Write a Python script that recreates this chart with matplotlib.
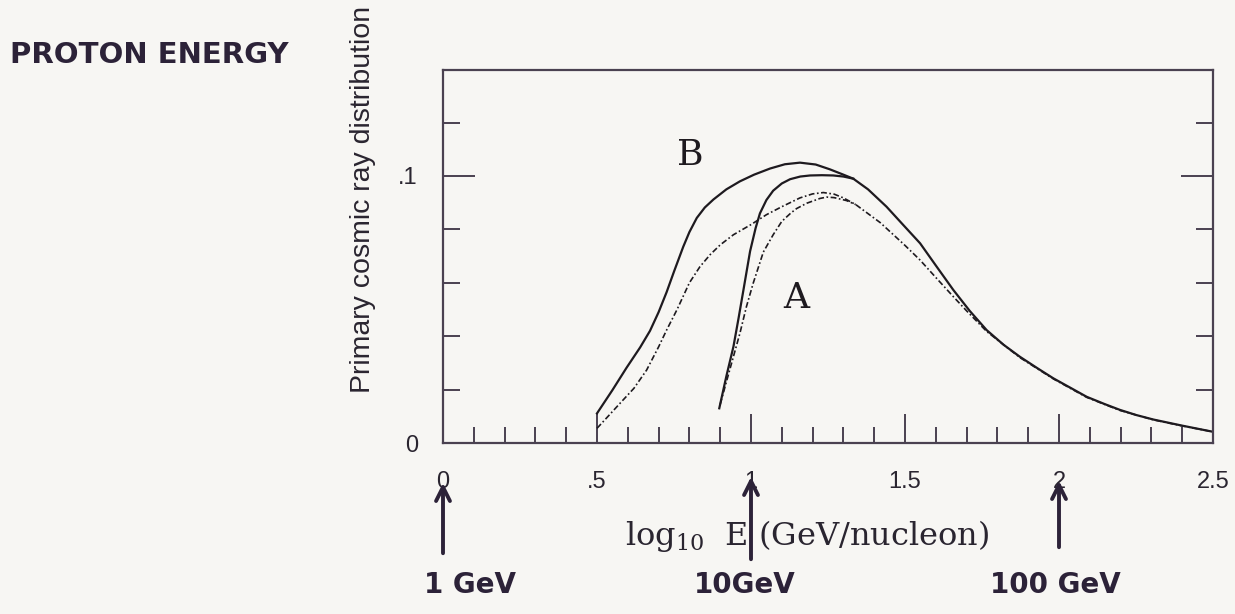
import matplotlib
matplotlib.use("Agg")
import matplotlib.pyplot as plt
from matplotlib.ticker import FixedLocator

# log10 E (GeV/nucleon) and distribution values for each curve
b_solid_x = [0.50, 0.55, 0.596, 0.64, 0.672, 0.70, 0.726, 0.75, 0.78, 0.80, 0.824, 0.85,
             0.878, 0.92, 0.964, 1.01, 1.062, 1.11, 1.159, 1.21, 1.256, 1.30, 1.332, 1.38,
             1.44, 1.49, 1.549, 1.60, 1.657, 1.71, 1.765, 1.82, 1.873, 1.93, 1.982, 2.04,
             2.09, 2.15, 2.198, 2.25, 2.306, 2.40, 2.50]
b_solid_y = [0.0111, 0.0198, 0.0282, 0.0358, 0.0420, 0.0490, 0.0565, 0.0642, 0.0735, 0.0790,
             0.0843, 0.0882, 0.0912, 0.0950, 0.0980, 0.1005, 0.1028, 0.1044, 0.1050, 0.1043,
             0.1025, 0.1005, 0.0990, 0.0950, 0.0885, 0.0822, 0.0748, 0.0665, 0.0573, 0.0495,
             0.0423, 0.0368, 0.0323, 0.0280, 0.0242, 0.0205, 0.0173, 0.0145, 0.0124, 0.0105,
             0.0088, 0.0065, 0.0042]

a_solid_x = [0.897, 0.92, 0.943, 0.96, 0.975, 0.997, 1.015, 1.029, 1.05, 1.072, 1.10,
             1.127, 1.16, 1.192, 1.23, 1.267, 1.30, 1.332]
a_solid_y = [0.0130, 0.025, 0.0361, 0.047, 0.0570, 0.0718, 0.0805, 0.0860, 0.0910, 0.0945,
             0.0972, 0.0988, 0.0998, 0.1002, 0.1003, 0.1002, 0.0998, 0.0990]

b_dash_x = [0.50, 0.54, 0.575, 0.62, 0.661, 0.70, 0.726, 0.76, 0.80, 0.834, 0.867, 0.90,
            0.943, 1.00, 1.05, 1.10, 1.159, 1.20, 1.235, 1.27, 1.30, 1.34, 1.42, 1.50,
            1.549, 1.60, 1.657, 1.70, 1.765, 1.873, 1.982, 2.09, 2.198, 2.306, 2.40, 2.50]
b_dash_y = [0.0055, 0.0105, 0.0149, 0.0205, 0.0273, 0.036, 0.0423, 0.050, 0.060, 0.066,
            0.0705, 0.0742, 0.078, 0.0818, 0.0855, 0.0885, 0.0918, 0.0933, 0.0938, 0.0932,
            0.0918, 0.0893, 0.0825, 0.074, 0.0685, 0.062, 0.0548, 0.0495, 0.0418, 0.0320,
            0.0240, 0.0171, 0.0122, 0.0087, 0.0064, 0.0042]

a_dash_x = [0.90, 0.93, 0.964, 0.985, 1.007, 1.04, 1.072, 1.10, 1.13, 1.148, 1.181, 1.224,
            1.246, 1.27, 1.31, 1.34]
a_dash_y = [0.0145, 0.027, 0.0411, 0.051, 0.0598, 0.0715, 0.078, 0.0830, 0.0862, 0.0878,
            0.0898, 0.0916, 0.0921, 0.0919, 0.0908, 0.0893]

x_major = [0, 0.5, 1, 1.5, 2, 2.5]
x_major_labels = ["0", ".5", "1", "1.5", "2", "2.5"]
x_minor = [i / 10 for i in range(1, 25)]
y_major = [0, 0.1]
y_major_labels = ["0", ".1"]
y_minor = [0.02, 0.04, 0.06, 0.08, 0.12]

notes = ["1 GeV", "10GeV", "100 GeV"]
note_positions = [0, 1, 2]

paper = "#f7f6f3"
ink = "#1e1a1f"
axis_col = "#4a4150"
pen = "#2c2238"

plt.rcParams["mathtext.fontset"] = "dejavuserif"

fig = plt.figure(figsize=(12.35, 6.14), dpi=100, facecolor=paper)
ax = fig.add_axes([443 / 1235, 1 - 443 / 614, 770 / 1235, 373 / 614])
ax.set_facecolor(paper)

ax.plot(b_solid_x, b_solid_y, color=ink, lw=1.6)
ax.plot(a_solid_x, a_solid_y, color=ink, lw=1.6)
ax.plot(b_dash_x, b_dash_y, color=ink, lw=1.2, dashes=(3.5, 1.5, 1, 1.5))
ax.plot(a_dash_x, a_dash_y, color=ink, lw=1.2, dashes=(3.5, 1.5, 1, 1.5))

ax.set_xlim(0, 2.5)
ax.set_ylim(0, 0.1397)

for s in ax.spines.values():
    s.set_color(axis_col)
    s.set_linewidth(1.6)

ax.xaxis.set_major_locator(FixedLocator(x_major))
ax.set_xticklabels(x_major_labels)
ax.xaxis.set_minor_locator(FixedLocator(x_minor))
ax.yaxis.set_major_locator(FixedLocator(y_major))
ax.set_yticklabels(y_major_labels)
ax.yaxis.set_minor_locator(FixedLocator(y_minor))

ax.tick_params(axis="x", which="both", direction="in", top=False, bottom=True,
               color=axis_col, width=1.4)
ax.tick_params(axis="x", which="major", length=21, pad=20)
ax.tick_params(axis="x", which="minor", length=11.5)
ax.tick_params(axis="y", which="both", direction="in", left=True, right=True,
               color=axis_col, width=1.4)
ax.tick_params(axis="y", which="major", length=23, pad=18)
ax.tick_params(axis="y", which="minor", length=12)

for lab in ax.get_xticklabels() + ax.get_yticklabels():
    lab.set_fontfamily("Liberation Sans")
    lab.set_fontsize(17)
    lab.set_color("#2a2530")

# curve labels
ax.text(0.802, 0.1078, "B", family="DejaVu Serif", fontsize=26, color=ink,
        ha="center", va="center")
ax.text(1.146, 0.0543, "A", family="DejaVu Serif", fontsize=26, color=ink,
        ha="center", va="center")

# axis titles
fig.text(363 / 1235, 1 - 199 / 614, "Primary cosmic ray distribution",
         family="Liberation Sans", fontsize=20.5, rotation=90, color="#2a2530",
         ha="center", va="center")
fig.text(625 / 1235, 1 - 536 / 614, r"log$_{10}$  E (GeV/nucleon)",
         family="DejaVu Serif", fontsize=23, color="#2a2530",
         ha="left", va="center")

# pen annotations
fig.text(10 / 1235, 1 - 55 / 614, "PROTON ENERGY", family="DejaVu Sans",
         fontsize=21, color=pen, ha="left", va="center", fontweight="bold")
note_x = [470, 745, 1055]
arrow_tip = [480, 474, 478]
arrow_tail = [556, 562, 550]
for val, txt, nx, tip, tail in zip(note_positions, notes, note_x, arrow_tip, arrow_tail):
    xa = 443 + val * 308
    ax.annotate("", xy=(xa / 1235, 1 - tip / 614), xycoords="figure fraction",
                xytext=(xa / 1235, 1 - tail / 614), textcoords="figure fraction",
                arrowprops=dict(arrowstyle="->,head_length=1.0,head_width=0.5",
                                color=pen, lw=2.8),
                annotation_clip=False)
    fig.text(nx / 1235, 1 - 585 / 614, txt, family="DejaVu Sans", fontsize=20,
             color=pen, ha="center", va="center", fontweight="bold")

fig.savefig("out.png", dpi=100, facecolor=paper)
